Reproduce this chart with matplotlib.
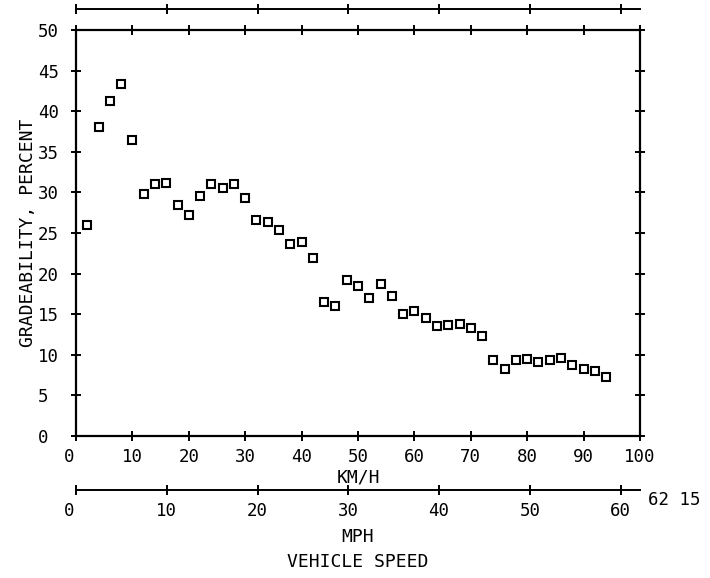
import matplotlib
matplotlib.use("Agg")
import matplotlib.pyplot as plt
import matplotlib.transforms as mtransforms

# data
speed_kmh = [2, 4, 6, 8, 10, 12, 14, 16, 18, 20, 22, 24, 26, 28, 30, 32, 34, 36,
             38, 40, 42, 44, 46, 48, 50, 52, 54, 56, 58, 60, 62, 64, 66, 68, 70,
             72, 74, 76, 78, 80, 82, 84, 86, 88, 90, 92, 94]
gradeability = [26.0, 38.0, 41.2, 43.4, 36.4, 29.8, 31.0, 31.1, 28.4, 27.2, 29.6,
                31.0, 30.6, 31.0, 29.3, 26.6, 26.4, 25.4, 23.7, 23.9, 21.9, 16.5,
                16.0, 19.2, 18.5, 16.95, 18.7, 17.3, 15.0, 15.4, 14.5, 13.6, 13.7,
                13.75, 13.3, 12.3, 9.4, 8.3, 9.3, 9.5, 9.1, 9.3, 9.6, 8.7, 8.25,
                8.0, 7.3]
kmh_ticks = [0, 10, 20, 30, 40, 50, 60, 70, 80, 90, 100]
pct_ticks = [0, 5, 10, 15, 20, 25, 30, 35, 40, 45, 50]
mph_ticks = [0, 10, 20, 30, 40, 50, 60]
mph_end_label = "62 15"

KMH_PER_MPH = 1.609344

plt.rcParams['font.family'] = ['DejaVu Sans Mono']
fig = plt.figure(figsize=(7.10, 5.78), dpi=100)
ax = fig.add_axes([76/710, 1-436/578, 564/710, 406/578])

ax.plot(speed_kmh, gradeability, linestyle='none', marker='s', markersize=6.2,
        markerfacecolor='white', markeredgecolor='black', markeredgewidth=1.5)

ax.set_xlim(0, 100)
ax.set_ylim(0, 50)
ax.set_xticks(kmh_ticks)
ax.set_yticks(pct_ticks)
ax.set_xticklabels([str(t) for t in kmh_ticks])
ax.set_yticklabels([str(t) for t in pct_ticks])
for s in ax.spines.values():
    s.set_linewidth(1.6)

ax.tick_params(axis='both', direction='inout', length=7, width=1.4, labelsize=12.5,
               top=True, right=True)
ax.tick_params(axis='x', pad=5)
ax.tick_params(axis='y', pad=24)
plt.setp(ax.get_yticklabels(), ha='left')

# shift "0" label of km/h axis slightly left
off = mtransforms.ScaledTranslation(-7/100, 0, fig.dpi_scale_trans)
xl = ax.get_xticklabels()
xl[0].set_transform(xl[0].get_transform() + off)

ax.set_xlabel("KM/H", fontsize=13, labelpad=2)
ax.set_ylabel("GRADEABILITY, PERCENT", fontsize=13)
ax.yaxis.set_label_coords(-0.07, 0.5)

fwd = lambda k: k / KMH_PER_MPH
inv = lambda m: m * KMH_PER_MPH

# top mph axis (no labels)
top = ax.secondary_xaxis((436-9.3)/406, functions=(fwd, inv))
top.set_xticks(mph_ticks)
top.tick_params(direction='inout', length=7, width=1.4, labeltop=False)
top.spines['top'].set_linewidth(1.4)

# bottom mph axis
bot = ax.secondary_xaxis(-(490-436)/406, functions=(fwd, inv))
bot.set_xticks(mph_ticks)
bot.set_xticklabels([str(t) for t in mph_ticks])
bot.tick_params(direction='inout', length=7, width=1.4, labelsize=12.5, pad=5)
bot.spines['bottom'].set_linewidth(1.4)
bl = bot.get_xticklabels()
bl[0].set_transform(bl[0].get_transform() + off)
bot.set_xlabel("MPH\nVEHICLE SPEED", fontsize=13, labelpad=6, linespacing=1.5)

fig.text(648/710, 1-500/578, mph_end_label, fontsize=12.5, ha='left', va='center')

fig.savefig("out.png", dpi=100)
